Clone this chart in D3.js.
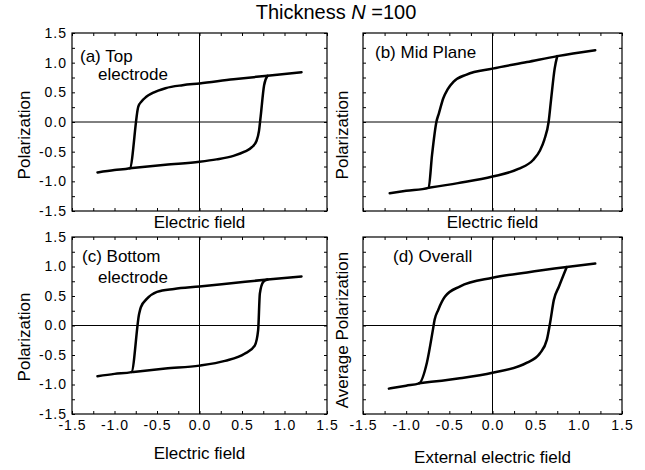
<!DOCTYPE html>
<html>
<head>
<meta charset="utf-8">
<script src="https://cdn.jsdelivr.net/npm/d3@7"></script>
<style>
  body { margin: 0; background: #fff; }
  svg { font-family: "Liberation Sans", Arial, sans-serif; }
</style>
</head>
<body>
<div id="chart"></div>
<script>
// axis ticks (same for every panel)
const axisTicks = [-1.5, -1.0, -0.5, 0.0, 0.5, 1.0, 1.5];
const minorTicks = d3.range(-1.5, 1.51, 0.25);

// hysteresis loops [E, P]
// "down" = field sweeping from +E to -E, "up" = from the lower corner back up
const topDown = [
  [1.2, 0.84], [0.8, 0.78], [0.4, 0.72], [0, 0.65], [-0.2, 0.62], [-0.4, 0.57], [-0.55, 0.49],
  [-0.63, 0.42], [-0.68, 0.35], [-0.72, 0.26], [-0.82, -0.78], [-1.0, -0.81], [-1.2, -0.85]
];
const topUp = [
  [-0.82, -0.78], [-0.4, -0.72], [0, -0.67], [0.2, -0.63], [0.4, -0.57], [0.53, -0.5],
  [0.62, -0.42], [0.67, -0.32], [0.7, -0.15], [0.72, 0.1], [0.76, 0.62], [0.8, 0.78]
];
const midDown = [
  [1.19, 1.21], [0.75, 1.11], [0.4, 1.01], [0, 0.9], [-0.3, 0.8], [-0.45, 0.68], [-0.52, 0.55],
  [-0.57, 0.4], [-0.62, 0.15], [-0.65, 0.0], [-0.7, -0.55], [-0.74, -1.11], [-1.0, -1.16], [-1.19, -1.2]
];
const midUp = [
  [-0.74, -1.11], [-0.4, -1.03], [0, -0.92], [0.3, -0.79], [0.47, -0.64], [0.55, -0.48],
  [0.6, -0.3], [0.65, 0.0], [0.68, 0.4], [0.72, 0.9], [0.75, 1.11]
];
const bottomDown = [
  [1.2, 0.83], [0.8, 0.78], [0.4, 0.72], [0, 0.66], [-0.3, 0.62], [-0.5, 0.57], [-0.62, 0.45],
  [-0.69, 0.31], [-0.71, 0.2], [-0.8, -0.79], [-1.0, -0.82], [-1.2, -0.86]
];
const bottomUp = [
  [-0.8, -0.79], [-0.4, -0.73], [0, -0.68], [0.3, -0.6], [0.53, -0.48], [0.65, -0.34],
  [0.69, -0.08], [0.71, 0.54], [0.75, 0.74], [0.8, 0.78]
];
const overallDown = [
  [1.19, 1.05], [0.86, 0.99], [0.4, 0.9], [0, 0.81], [-0.38, 0.66], [-0.55, 0.49], [-0.63, 0.26],
  [-0.67, 0.1], [-0.69, -0.07], [-0.76, -0.63], [-0.85, -0.98], [-1.0, -1.02], [-1.2, -1.07]
];
const overallUp = [
  [-0.85, -0.98], [-0.4, -0.9], [0, -0.8], [0.4, -0.63], [0.55, -0.47], [0.63, -0.24],
  [0.67, 0.07], [0.71, 0.43], [0.77, 0.66], [0.86, 0.99]
];

const W = 645, H = 470;
const svg = d3.select("#chart").append("svg").attr("width", W).attr("height", H);

svg.append("text")
  .attr("x", 336).attr("y", 19).attr("text-anchor", "middle")
  .attr("font-size", 20)
  .call(t => {
    t.append("tspan").text("Thickness ");
    t.append("tspan").attr("font-style", "italic").text("N");
    t.append("tspan").text(" =100");
  });

const panels = [
  { branches: [topDown, topUp], left: 72, right: 327, top: 33, bottom: 211, yLabels: true, xLabels: false,
    xTitle: "Electric field", xTitleY: 228, yTitle: "Polarization", yTitleX: 30, yTitleC: 135,
    note: ["(a) Top", "electrode"], noteX: [80, 98], noteY: [62, 80] },
  { branches: [midDown, midUp], left: 363, right: 622, top: 33, bottom: 211, yLabels: false, xLabels: false,
    xTitle: "Electric field", xTitleY: 228, yTitle: "Polarization", yTitleX: 348, yTitleC: 135,
    note: ["(b) Mid Plane"], noteX: [375], noteY: [58] },
  { branches: [bottomDown, bottomUp], left: 72, right: 327, top: 237, bottom: 414, yLabels: true, xLabels: true,
    xTitle: "Electric field", xTitleY: 459, yTitle: "Polarization", yTitleX: 30, yTitleC: 337,
    note: ["(c) Bottom", "electrode"], noteX: [82, 98], noteY: [262, 283] },
  { branches: [overallDown, overallUp], left: 363, right: 622, top: 237, bottom: 414, yLabels: false, xLabels: true,
    xTitle: "External electric field", xTitleY: 463, yTitle: "Average Polarization", yTitleX: 348, yTitleC: 330,
    note: ["(d) Overall"], noteX: [393], noteY: [262] }
];

const fmt = d => axisTicks.some(t => Math.abs(t - d) < 1e-6) ? d.toFixed(1) : "";

panels.forEach(p => {
  const x = d3.scaleLinear().domain([-1.5, 1.5]).range([p.left, p.right]);
  const y = d3.scaleLinear().domain([-1.5, 1.5]).range([p.bottom, p.top]);
  const g = svg.append("g");

  // frame
  g.append("rect")
    .attr("x", p.left).attr("y", p.top)
    .attr("width", p.right - p.left).attr("height", p.bottom - p.top)
    .attr("fill", "none").attr("stroke", "#000").attr("stroke-width", 1.2);

  // zero lines
  g.append("line").attr("x1", x(0)).attr("x2", x(0)).attr("y1", p.top).attr("y2", p.bottom)
    .attr("stroke", "#000").attr("stroke-width", 1);
  g.append("line").attr("x1", p.left).attr("x2", p.right).attr("y1", y(0)).attr("y2", y(0))
    .attr("stroke", "#000").attr("stroke-width", 1);

  // inward ticks on all sides
  const styleAxis = a => {
    a.select(".domain").remove();
    a.selectAll("line").attr("stroke", "#000");
    a.selectAll("text").attr("fill", "#000").attr("font-size", 14).attr("letter-spacing", 1);
  };
  g.append("g").attr("transform", `translate(0,${p.bottom})`)
    .call(d3.axisBottom(x).tickValues(minorTicks).tickSize(-3).tickPadding(6)
      .tickFormat(p.xLabels ? fmt : () => ""))
    .call(styleAxis);
  g.append("g").attr("transform", `translate(0,${p.top})`)
    .call(d3.axisTop(x).tickValues(minorTicks).tickSize(-3).tickFormat(""))
    .call(styleAxis);
  g.append("g").attr("transform", `translate(${p.left},0)`)
    .call(d3.axisLeft(y).tickValues(minorTicks).tickSize(-3).tickPadding(5)
      .tickFormat(p.yLabels ? fmt : () => ""))
    .call(styleAxis);
  g.append("g").attr("transform", `translate(${p.right},0)`)
    .call(d3.axisRight(y).tickValues(minorTicks).tickSize(-3).tickFormat(""))
    .call(styleAxis);

  // loop branches (E is monotonic along each branch)
  const line = d3.line()
    .x(d => x(d[0])).y(d => y(d[1]))
    .curve(d3.curveMonotoneX);
  g.selectAll("path.loop").data(p.branches).join("path")
    .attr("class", "loop")
    .attr("d", line)
    .attr("fill", "none").attr("stroke", "#000")
    .attr("stroke-width", 2.5).attr("stroke-linejoin", "round").attr("stroke-linecap", "round");

  // titles
  g.append("text")
    .attr("x", x(0)).attr("y", p.xTitleY).attr("text-anchor", "middle")
    .attr("font-size", 17).text(p.xTitle);
  g.append("text")
    .attr("transform", `translate(${p.yTitleX},${p.yTitleC}) rotate(-90)`)
    .attr("text-anchor", "middle").attr("font-size", 17).text(p.yTitle);

  p.note.forEach((s, i) => {
    g.append("text").attr("x", p.noteX[i]).attr("y", p.noteY[i])
      .attr("font-size", 17).text(s);
  });
});
</script>
</body>
</html>
